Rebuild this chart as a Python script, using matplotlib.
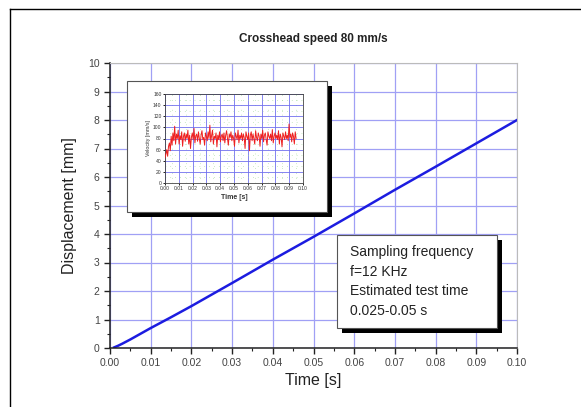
import numpy as np
import matplotlib
matplotlib.use("Agg")
import matplotlib.pyplot as plt
from matplotlib.patches import Rectangle
from matplotlib.lines import Line2D
from matplotlib.ticker import MultipleLocator

plt.rcParams["font.family"] = ["Liberation Sans", "DejaVu Sans"]

# displacement curve (main plot)
time_s = [0.001, 0.002, 0.003, 0.005, 0.0075, 0.01, 0.015, 0.02, 0.03, 0.04,
          0.05, 0.06, 0.07, 0.08, 0.09, 0.10]
disp_mm = [0.02, 0.08, 0.15, 0.30, 0.50, 0.70, 1.08, 1.47, 2.28, 3.10,
           3.90, 4.72, 5.55, 6.36, 7.18, 8.00]

# velocity record (inset), sampled evenly from 0 to 0.095 s
velocity = [45, 52, 60, 48, 66, 72, 58, 84, 68, 90, 76, 102, 70, 88, 80, 95,
            70, 85, 78, 92, 66, 84, 90, 75, 88, 80, 95, 70, 86, 62, 82, 90,
            78, 98, 72, 85, 88, 75, 92, 80, 70, 86, 94, 78, 82, 68, 90, 84,
            76, 92, 80, 104, 74, 86, 95, 70, 84, 80, 90, 65, 86, 78, 92, 74,
            84, 88, 76, 90, 72, 86, 94, 80, 68, 88, 82, 92, 76, 86, 80, 66,
            90, 84, 78, 95, 72, 86, 80, 90, 76, 88, 82, 62, 92, 84, 78, 90,
            58, 86, 92, 76, 88, 80, 70, 94, 82, 76, 90, 84, 66, 88, 80, 95,
            74, 86, 90, 78, 68, 92, 84, 80, 88, 76, 96, 72, 84, 90, 80, 86,
            78, 94, 70, 88, 82, 65, 90, 84, 78, 92, 80, 86, 76, 106, 82, 88,
            74, 90, 84, 70, 92, 80]
vel_t = np.linspace(0.0, 0.095, len(velocity))

info_lines = ["Sampling frequency", "f=12 KHz", "Estimated test time", "0.025-0.05 s"]

grid_blue = "#a0a0f5"
tick_col = "#444444"

fig = plt.figure(figsize=(5.81, 4.07), dpi=100)
W, H = 581.0, 407.0

def fx(px):
    return px / W

def fy(py):
    return 1 - py / H

# frame lines (top and left of the page)
fig.add_artist(Line2D([fx(10), fx(580)], [fy(9), fy(9)], color="black", lw=1.0))
fig.add_artist(Line2D([fx(10), fx(10)], [fy(9), 0], color="black", lw=1.0))

ax = fig.add_axes([fx(110), fy(348), fx(517) - fx(110), fy(63) - fy(348)])
ax.set_zorder(0)
ax.plot(time_s, disp_mm, color="#1c1ce0", lw=1.8)
ax.set_xlim(0, 0.10)
ax.set_ylim(0, 10)
ax.xaxis.set_major_locator(MultipleLocator(0.01))
ax.xaxis.set_minor_locator(MultipleLocator(0.005))
ax.yaxis.set_major_locator(MultipleLocator(1))
ax.yaxis.set_minor_locator(MultipleLocator(0.5))
ax.set_xticklabels([f"{v:.2f}" for v in ax.get_xticks()])
ax.grid(True, which="major", color=grid_blue, lw=0.9)
ax.tick_params(which="major", direction="out", length=4, width=1.0,
               labelsize=7.5, labelcolor=tick_col, color="#222222")
ax.tick_params(which="minor", direction="out", length=2, width=0.8, color="#222222")
for side in ["top", "right"]:
    ax.spines[side].set_color("#bbbbbb")
for side in ["left", "bottom"]:
    ax.spines[side].set_color("#222222")
    ax.spines[side].set_linewidth(1.1)
ax.set_xlabel("Time [s]", fontsize=11.5, color="#222222", labelpad=3)
ax.set_ylabel("Displacement [mm]", fontsize=11.5, color="#222222", labelpad=8)
ax.set_title("Crosshead speed 80 mm/s", fontsize=8.5, fontweight="bold",
             color="#222222", pad=15)

# inset panel background with shadow
fig.patches.append(Rectangle((fx(132), fy(217)), fx(327) - fx(127), fy(81) - fy(212),
                             transform=fig.transFigure, facecolor="black",
                             edgecolor="none", zorder=1))
fig.patches.append(Rectangle((fx(127), fy(212)), fx(327) - fx(127), fy(81) - fy(212),
                             transform=fig.transFigure, facecolor="white",
                             edgecolor="#555555", lw=0.8, zorder=1.1))

# info text box with shadow
fig.patches.append(Rectangle((fx(342), fy(333)), fx(497) - fx(337), fy(235) - fy(328),
                             transform=fig.transFigure, facecolor="black",
                             edgecolor="none", zorder=1))
fig.patches.append(Rectangle((fx(337), fy(328)), fx(497) - fx(337), fy(235) - fy(328),
                             transform=fig.transFigure, facecolor="white",
                             edgecolor="#555555", lw=0.8, zorder=1.1))
for i, line in enumerate(info_lines):
    fig.text(fx(350), fy(252 + 19.7 * i), line, fontsize=10, color="#222222",
             va="center", ha="left", zorder=3)

# inset velocity plot
ins = fig.add_axes([fx(165), fy(183), fx(303) - fx(165), fy(94) - fy(183)])
ins.set_zorder(2)
ins.plot(vel_t, velocity, color="#ee2020", lw=0.7, zorder=3)
ins.set_xlim(0, 0.10)
ins.set_ylim(0, 160)
ins.xaxis.set_major_locator(MultipleLocator(0.01))
ins.yaxis.set_major_locator(MultipleLocator(20))
ins.xaxis.set_minor_locator(MultipleLocator(0.005))
ins.yaxis.set_minor_locator(MultipleLocator(10))
ins.set_xticklabels([f"{v:.2f}" for v in ins.get_xticks()])
ins.grid(True, which="minor", color="#9ad890", lw=0.5, ls=(0, (1, 6)))
ins.grid(True, which="major", color="#7070ee", lw=0.6)
ins.tick_params(which="major", direction="out", length=1.5, width=0.6,
                labelsize=3.6, labelcolor="#333333", pad=1)
ins.tick_params(which="minor", length=0)
for side in ins.spines.values():
    side.set_linewidth(0.6)
    side.set_color("#444444")
ins.set_xlabel("Time [s]", fontsize=5, fontweight="bold", color="#333333", labelpad=1.5)
ins.set_ylabel("Velocity [mm/s]", fontsize=3.8, color="#333333", labelpad=1.5)

fig.savefig("out.png", dpi=100)
